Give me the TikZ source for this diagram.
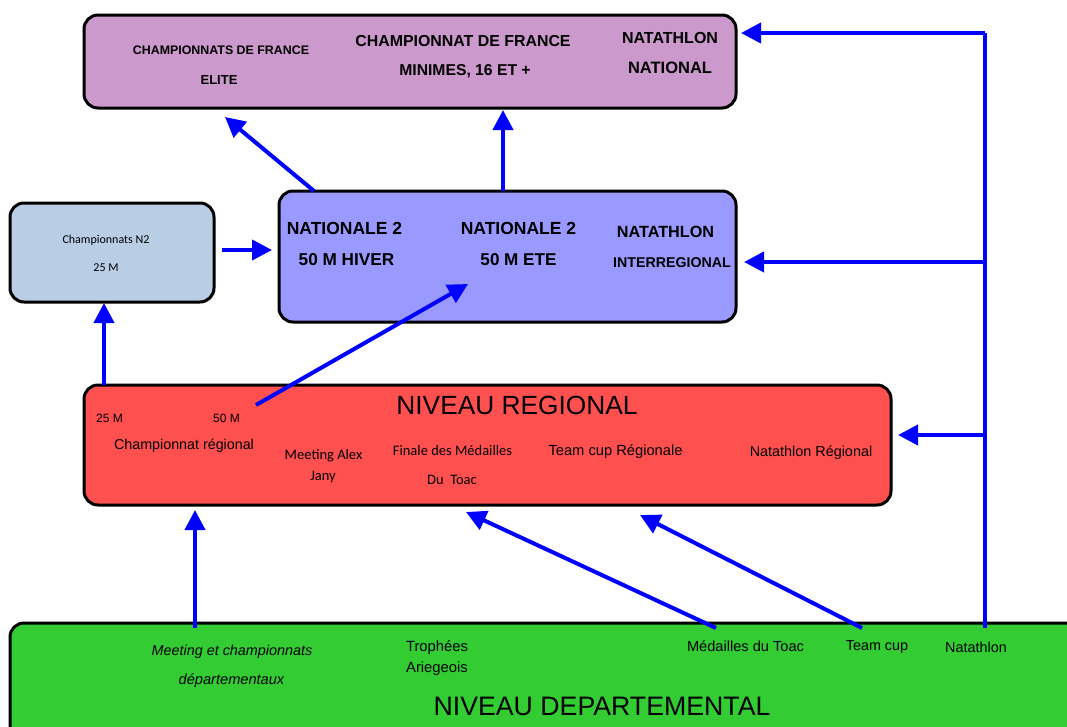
\documentclass[tikz,border=0pt]{standalone}
\usepackage{fontspec}
\setmainfont{Liberation Sans}
\newfontfamily\calib{Carlito}
\usetikzlibrary{arrows.meta,calc}
\definecolor{cpurple}{HTML}{CC99CC}
\definecolor{cblue}{HTML}{9999FF}
\definecolor{clight}{HTML}{B9CDE5}
\definecolor{cred}{HTML}{FF5050}
\definecolor{cgreen}{HTML}{33CC33}
\definecolor{carrow}{HTML}{0000FF}
\newcommand\fsz[1]{\fontsize{#1}{#1}\selectfont}
\begin{document}
\begin{tikzpicture}[x=1pt,y=-1pt,
  box/.style={draw=black,line width=3pt,rounded corners=14pt,inner sep=0pt,outer sep=0pt},
  arr/.style={draw=carrow,line width=4pt,-{Triangle[length=20pt,width=20pt]}},
  lin/.style={draw=carrow,line width=4pt},
  t/.style={inner sep=0pt,anchor=center,align=center}]
\useasboundingbox (0,0) rectangle (1067,726);
\clip (0,0) rectangle (1067,726);
\fill[white] (0,0) rectangle (1067,726);
% boxes
\node[box,fill=cpurple,minimum width=652pt,minimum height=93pt] (nat) at (410,61.5) {};
\node[box,fill=cblue,minimum width=457pt,minimum height=131pt] (inter) at (507.5,256.5) {};
\node[box,fill=clight,minimum width=204pt,minimum height=99pt] (n2) at (112,252.5) {};
\node[box,fill=cred,minimum width=807pt,minimum height=120pt] (reg) at (487.5,445) {};
\node[box,fill=cgreen,minimum width=1090pt,minimum height=150pt] (dep) at (555,698) {};
% purple texts
\node[t,font=\bfseries\fsz{12.4}] (p1a) at (221,50) {CHAMPIONNATS DE FRANCE};
\node[t,font=\bfseries\fsz{13}] (p1b) at (219,80) {ELITE};
\node[t,font=\bfseries\fsz{15.9}] (p2a) at (463,41) {CHAMPIONNAT DE FRANCE};
\node[t,font=\bfseries\fsz{15.7}] (p2b) at (465,71) {MINIMES, 16 ET +};
\node[t,font=\bfseries\fsz{16}] (p3a) at (670,38) {NATATHLON};
\node[t,font=\bfseries\fsz{16.5}] (p3b) at (670,68) {NATIONAL};
% blue texts
\node[t,font=\bfseries\fsz{17.5}] (b1a) at (344.5,228) {NATIONALE 2};
\node[t,font=\bfseries\fsz{17.2}] (b1b) at (346.5,260) {50 M HIVER};
\node[t,font=\bfseries\fsz{17.5}] (b2a) at (518.5,228) {NATIONALE 2};
\node[t,font=\bfseries\fsz{17.1}] (b2b) at (518.5,260) {50 M ETE};
\node[t,font=\bfseries\fsz{16.2}] (b3a) at (665.5,232) {NATATHLON};
\node[t,font=\bfseries\fsz{14.2}] (b3b) at (672,263) {INTERREGIONAL};
% light box texts
\node[t,font=\calib\fsz{12}] (l1) at (106,240) {Championnats N2};
\node[t,font=\calib\fsz{12}] (l2) at (106,268) {25 M};
% red texts
\node[t,font=\fsz{26.3}] (rt) at (517,405) {NIVEAU REGIONAL};
\node[t,font=\fsz{12}] (r25) at (109.5,418) {25 M};
\node[t,font=\fsz{12}] (r50) at (226.5,418) {50 M};
\node[t,font=\fsz{14.3}] (rc) at (184,446) {Championnat régional};
\node[t,font=\calib\fsz{14.5}] (rm1) at (323.5,456) {Meeting Alex};
\node[t,font=\calib\fsz{14.5}] (rm2) at (323,477) {Jany};
\node[t,font=\calib\fsz{14.5}] (rf1) at (452.5,451) {Finale des Médailles};
\node[t,font=\calib\fsz{14.5}] (rf2) at (452,480) {Du\ \ Toac};
\node[t,font=\fsz{14.7}] (rtc) at (615.5,452) {Team cup Régionale};
\node[t,font=\fsz{14.4}] (rn) at (811,453) {Natathlon Régional};
% green texts
\node[t,font=\itshape\fsz{14.4}] (g1a) at (232,652) {Meeting et championnats};
\node[t,font=\itshape\fsz{14.6}] (g1b) at (231.5,681) {départementaux};
\node[t,font=\fsz{14.8}] (g2a) at (437,648) {Trophées};
\node[t,font=\fsz{14.8}] (g2b) at (437,669) {Ariegeois};
\node[t,font=\fsz{14.6}] (g3) at (745.5,646) {Médailles du Toac};
\node[t,font=\fsz{14.4}] (g4) at (877,647) {Team cup};
\node[t,font=\fsz{14.4}] (g5) at (976,647) {Natathlon};
\node[t,font=\fsz{26.7}] (gt) at (602,706) {NIVEAU DEPARTEMENTAL};
% arrows
\draw[arr] ($(inter.north west)+(35,0)$) -- ($(nat.south west)+(141,9)$);
\draw[arr] ($(inter.north west)+(224,0)$) -- ($(nat.south west)+(419,2)$);
\draw[arr] ($(n2.east)+(8,-2.5)$) -- ($(inter.west)+(-7,-6.5)$);
\draw[arr] ($(reg.north west)+(20,0)$) -- ($(n2.south west)+(94,1)$);
\draw[arr] ($(reg.north west)+(172,20)$) -- ($(inter.north west)+(189,93)$);
\coordinate (sTop) at (985,33);
\coordinate (sMid) at (985,262);
\coordinate (sLow) at (985,435);
\coordinate (sBot) at ($(dep.north west)+(975,5)$);
\draw[lin] (sTop) -- (sBot);
\draw[arr] (sTop) -- ($(nat.east |- sTop)+(5,0)$);
\draw[arr] (sMid) -- ($(inter.east |- sMid)+(8,0)$);
\draw[arr] (sLow) -- ($(reg.east |- sLow)+(7,0)$);
\draw[arr] ($(dep.north west)+(185,5)$) -- ($(reg.south west)+(111,5)$);
\draw[arr] ($(dep.north west)+(706,5)$) -- ($(reg.south west)+(382,7)$);
\draw[arr] ($(dep.north west)+(852,5)$) -- ($(reg.south west)+(556,10)$);
\end{tikzpicture}
\end{document}
